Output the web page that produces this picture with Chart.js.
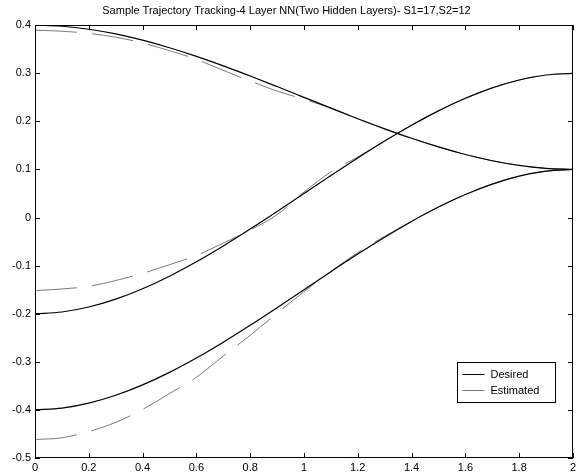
<!DOCTYPE html>
<html>
<head>
<meta charset="utf-8">
<script src="https://cdn.jsdelivr.net/npm/chart.js@4/dist/chart.umd.min.js"></script>
<style>
  html, body { margin: 0; padding: 0; background: #fff; }
  #wrap { width: 579px; height: 475px; }
</style>
</head>
<body>
<div id="wrap"><canvas id="trajChart" width="579" height="475"></canvas></div>
<script>
// time samples (s)
const timeVals = [0, 0.1, 0.2, 0.3, 0.4, 0.5, 0.6, 0.7, 0.8, 0.9, 1.0,
                  1.1, 1.2, 1.3, 1.4, 1.5, 1.6, 1.7, 1.8, 1.9, 2.0];

// desired trajectories
const desiredA = [0.4, 0.3978, 0.3916, 0.3818, 0.3688, 0.3531, 0.3352, 0.3155, 0.2944, 0.2724, 0.25,
                  0.2276, 0.2056, 0.1845, 0.1648, 0.1469, 0.1312, 0.1182, 0.1084, 0.1022, 0.1];
const desiredB = [-0.2, -0.1964, -0.186, -0.1696, -0.148, -0.1219, -0.092, -0.0591, -0.024, 0.0126, 0.05,
                  0.0874, 0.124, 0.1591, 0.192, 0.2219, 0.248, 0.2696, 0.286, 0.2964, 0.3];
const desiredC = [-0.4, -0.3964, -0.386, -0.3696, -0.348, -0.3219, -0.292, -0.2591, -0.224, -0.1874, -0.15,
                  -0.1126, -0.076, -0.0409, -0.008, 0.0219, 0.048, 0.0696, 0.086, 0.0964, 0.1];

// network estimates
const estimatedA = [0.3896, 0.3875, 0.383, 0.375, 0.363, 0.347, 0.329, 0.306, 0.284, 0.263, 0.246,
                    0.2276, 0.2056, 0.1845, 0.1648, 0.1469, 0.1312, 0.1182, 0.1084, 0.1022, 0.1];
const estimatedB = [-0.1519, -0.1485, -0.143, -0.131, -0.116, -0.098, -0.079, -0.053, -0.026, 0.006, 0.053,
                    0.095, 0.126, 0.1591, 0.192, 0.2219, 0.248, 0.2696, 0.286, 0.2964, 0.3];
const estimatedC = [-0.4616, -0.458, -0.445, -0.426, -0.399, -0.366, -0.332, -0.288, -0.245, -0.199, -0.154,
                    -0.112, -0.073, -0.039, -0.008, 0.0219, 0.048, 0.0696, 0.086, 0.0964, 0.1];

const chartTitle = "Sample Trajectory Tracking-4 Layer NN(Two Hidden Layers)- S1=17,S2=12";
const legendLabels = ["Desired", "Estimated"];

const FONT = "Arial, 'Liberation Sans', sans-serif";

function toPoints(ys) {
    return timeVals.map((t, i) => ({ x: t, y: ys[i] }));
}

function desiredSet(ys, withLabel) {
    return {
        label: withLabel ? legendLabels[0] : "",
        data: toPoints(ys),
        borderColor: "#000",
        borderWidth: 1.2,
        pointRadius: 0,
        cubicInterpolationMode: "monotone",
        order: 0
    };
}

function estimatedSet(ys, withLabel) {
    return {
        label: withLabel ? legendLabels[1] : "",
        data: toPoints(ys),
        borderColor: "#7a7a7a",
        borderWidth: 1,
        borderDash: [42, 15],
        pointRadius: 0,
        cubicInterpolationMode: "monotone",
        order: 1
    };
}

// white page, box round the axes, ticks pointing inward, legend in the corner
const matlabLook = {
    id: "matlabLook",
    beforeDraw(chart) {
        const ctx = chart.ctx;
        ctx.save();
        ctx.fillStyle = "#fff";
        ctx.fillRect(0, 0, chart.width, chart.height);
        ctx.restore();
    },
    afterDraw(chart) {
        const { ctx, chartArea: a, scales } = chart;
        const len = 5;
        ctx.save();
        ctx.strokeStyle = "#000";
        ctx.lineWidth = 1;
        ctx.strokeRect(Math.round(a.left) + 0.5, Math.round(a.top) + 0.5,
                       Math.round(a.right - a.left) - 1, Math.round(a.bottom - a.top) - 1);

        ctx.beginPath();
        scales.x.ticks.forEach(tk => {
            const px = Math.round(scales.x.getPixelForValue(tk.value)) + 0.5;
            ctx.moveTo(px, a.bottom); ctx.lineTo(px, a.bottom - len);
            ctx.moveTo(px, a.top); ctx.lineTo(px, a.top + len);
        });
        scales.y.ticks.forEach(tk => {
            const py = Math.round(scales.y.getPixelForValue(tk.value)) + 0.5;
            ctx.moveTo(a.left, py); ctx.lineTo(a.left + len, py);
            ctx.moveTo(a.right, py); ctx.lineTo(a.right - len, py);
        });
        ctx.stroke();

        // legend box
        const bx = 457.5, by = 362.5, bw = 98, bh = 40;
        ctx.fillStyle = "#fff";
        ctx.fillRect(bx, by, bw, bh);
        ctx.strokeRect(bx, by, bw, bh);
        const rows = [
            { text: legendLabels[0], color: "#000", y: by + 12 },
            { text: legendLabels[1], color: "#7a7a7a", y: by + 28 }
        ];
        ctx.font = "11px " + FONT;
        ctx.textBaseline = "middle";
        rows.forEach(r => {
            ctx.strokeStyle = r.color;
            ctx.beginPath();
            ctx.moveTo(bx + 5, r.y); ctx.lineTo(bx + 27, r.y);
            ctx.stroke();
            ctx.fillStyle = "#000";
            ctx.fillText(r.text, bx + 33, r.y);
        });
        ctx.restore();
    }
};

new Chart(document.getElementById("trajChart"), {
    type: "line",
    data: {
        datasets: [
            desiredSet(desiredA, true),
            desiredSet(desiredB),
            desiredSet(desiredC),
            estimatedSet(estimatedA, true),
            estimatedSet(estimatedB),
            estimatedSet(estimatedC)
        ]
    },
    options: {
        responsive: false,
        animation: false,
        layout: { padding: { left: 0, right: 6, top: 0, bottom: 0 } },
        plugins: {
            legend: { display: false },
            tooltip: { enabled: false },
            title: {
                display: true,
                text: chartTitle,
                color: "#000",
                font: { family: FONT, size: 11, weight: "normal" },
                padding: { top: 4, bottom: 8 }
            }
        },
        scales: {
            x: {
                type: "linear",
                min: 0,
                max: 2,
                grid: { display: false, drawTicks: false },
                border: { display: false },
                ticks: {
                    stepSize: 0.2,
                    color: "#000",
                    padding: 3,
                    maxRotation: 0,
                    font: { family: FONT, size: 11 },
                    callback: v => String(+v.toFixed(1))
                },
                afterFit: s => { s.height = 17; }
            },
            y: {
                min: -0.5,
                max: 0.4,
                grid: { display: false, drawTicks: false },
                border: { display: false },
                ticks: {
                    stepSize: 0.1,
                    color: "#000",
                    padding: 4,
                    font: { family: FONT, size: 11 },
                    callback: v => String(+v.toFixed(1))
                },
                afterFit: s => { s.width = 35; }
            }
        }
    },
    plugins: [matlabLook]
});
</script>
</body>
</html>
